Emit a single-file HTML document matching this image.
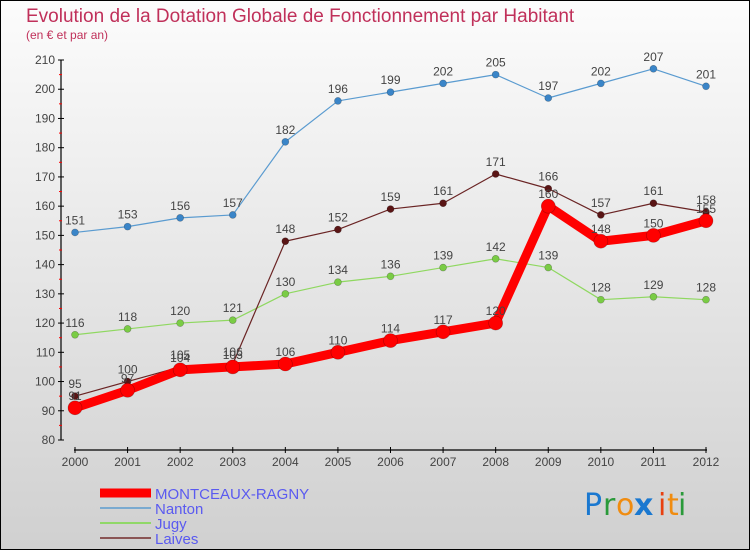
<!DOCTYPE html>
<html><head><meta charset="utf-8"><style>
html,body{margin:0;padding:0}
body{width:750px;height:550px;overflow:hidden;font-family:"Liberation Sans",sans-serif}
</style></head><body>
<svg id="chart" width="750" height="550" xmlns="http://www.w3.org/2000/svg" style="display:block">
<defs><linearGradient id="bg" x1="0" y1="0" x2="0" y2="1"><stop offset="0" stop-color="#fcfcfc"/><stop offset="1" stop-color="#d0d0d0"/></linearGradient></defs>
<rect x="0.5" y="0.5" width="749" height="549" fill="url(#bg)" stroke="#000"/>
<text x="26" y="22" font-size="19" fill="#c0305a">Evolution de la Dotation Globale de Fonctionnement par Habitant</text>
<text x="26" y="39" font-size="12" fill="#c0305a">(en € et par an)</text>
<g id="axes"></g><g id="series"></g><g id="legend"></g>
<g font-size="30" font-family="'DejaVu Sans',sans-serif">
<text x="584" y="515" fill="#1a78d0">P</text><text x="603" y="515" fill="#2a9a3a">r</text><text x="616" y="515" fill="#f08c10">o</text><text x="634" y="515" fill="#1a78d0" font-weight="bold">x</text><text x="658" y="515" fill="#e84010">i</text><text x="667" y="515" fill="#f08c10">t</text><text x="678" y="515" fill="#2a9a3a">i</text>
</g>
</svg>
<script>
const years=["2000","2001","2002","2003","2004","2005","2006","2007","2008","2009","2010","2011","2012"];
const yTicks=[80,90,100,110,120,130,140,150,160,170,180,190,200,210];
const montceaux=[91,97,104,105,106,110,114,117,120,160,148,150,155];
const nanton=[151,153,156,157,182,196,199,202,205,197,202,207,201];
const jugy=[116,118,120,121,130,134,136,139,142,139,128,129,128];
const laives=[95,100,105,106,148,152,159,161,171,166,157,161,158];
const NS="http://www.w3.org/2000/svg";
const X=i=>75+i*(706-75)/(years.length-1);
const Y=v=>440-(v-80)*(380/130);
function mk(tag,attrs,parent){const e=document.createElementNS(NS,tag);for(const k in attrs)e.setAttribute(k,attrs[k]);parent.appendChild(e);return e;}
const axes=document.getElementById('axes');
let a=mk('line',{x1:61,y1:Y(210),x2:61,y2:440,stroke:'#000','stroke-width':1.2},axes);


yTicks.forEach(v=>{
 const t=mk('line',{x1:58,x2:64,y1:Y(v),y2:Y(v),stroke:'#000'},axes);
 
 
 if(v<210){const m=mk('line',{x1:59,x2:62,y1:Y(v+5),y2:Y(v+5),stroke:'#f00'},axes);
 
 }
 const l=mk('text',{x:55,y:Y(v)+4,'font-size':12,fill:'#444','text-anchor':'end'},axes);
 
 
 l.textContent=v;
});
a=mk('line',{x1:X(0)-1,y1:450,x2:X(12)+1,y2:450,stroke:'#000','stroke-width':1.2},axes);


years.forEach((y,i)=>{
 const t=mk('line',{x1:X(i),x2:X(i),y1:447,y2:453,stroke:'#000'},axes);
 
 
 const l=mk('text',{x:X(i),y:466,'font-size':12,fill:'#444','text-anchor':'middle'},axes);
 
 
 l.textContent=y;
});
const ser=document.getElementById('series');
function draw(name,vals,color,w,r,dot){
 const g=mk('g',{},ser);
 
 
 const p=mk('polyline',{points:vals.map((v,i)=>X(i)+','+Y(v)).join(' '),fill:'none',stroke:color,'stroke-width':w,'stroke-linejoin':'round'},g);
 
 
 vals.forEach((v,i)=>{
  const c=mk('circle',{cx:X(i),cy:Y(v),r:r,fill:dot,stroke:'rgba(0,0,0,0.3)','stroke-width':0.6},g);
  
  
  const t=mk('text',{x:X(i),y:Y(v)-8,'font-size':12,fill:'#444','text-anchor':'middle'},g);
  
  
  t.textContent=v;
 });
}
draw('nanton',nanton,'#5a9bd0',1.2,3.5,'#3a85c8');
draw('jugy',jugy,'#8fd860',1.2,3.5,'#7acc45');
draw('laives',laives,'#6a2424',1.2,3.5,'#5a1515');
draw('montceaux',montceaux,'#f00',9,7,'#f00');
const lg=document.getElementById('legend');
const items=[["MONTCEAUX-RAGNY","#f00",9],["Nanton","#7aaad0",2],["Jugy","#90d868",2],["Laives","#8a5555",2]];
items.forEach((it,i)=>{
 const y=493+i*15;
 const l=mk('line',{x1:100,x2:151,y1:y,y2:y,stroke:it[1],'stroke-width':it[2]},lg);
 
 
 const t=mk('text',{x:155,y:y+6,'font-size':15,fill:'#5a5af0'},lg);
 
 
 t.textContent=it[0];
});
</script>
</body></html>
